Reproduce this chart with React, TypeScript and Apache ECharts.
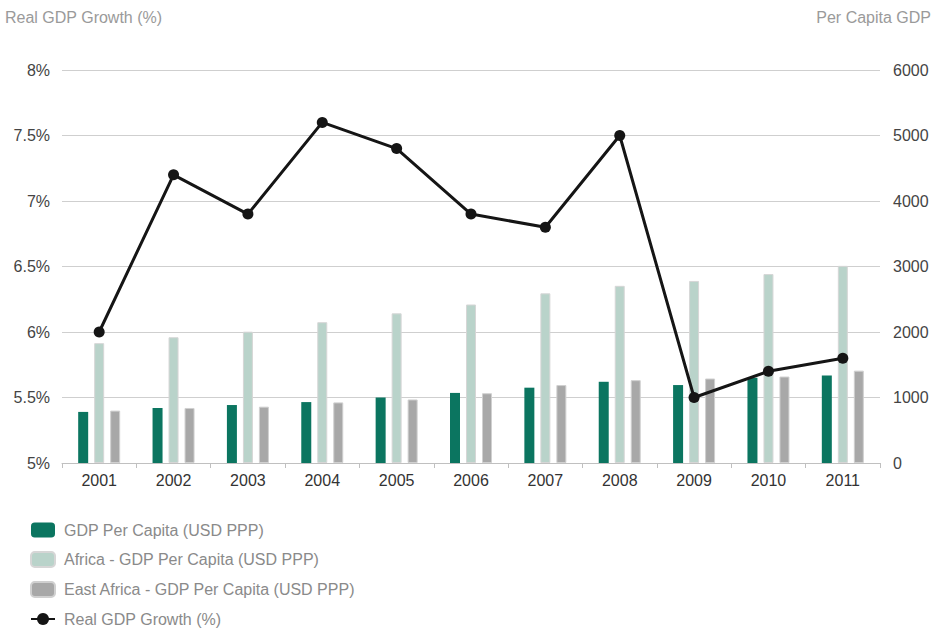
import React, { useEffect, useRef } from "react";
import * as echarts from "echarts";

const years = ["2001", "2002", "2003", "2004", "2005", "2006", "2007", "2008", "2009", "2010", "2011"];
const gdpPerCapita = [780, 840, 885, 930, 1000, 1070, 1150, 1240, 1190, 1300, 1335];
const africaGdpPerCapita = [1830, 1920, 2005, 2150, 2285, 2420, 2590, 2705, 2780, 2885, 3010];
const eastAfricaGdpPerCapita = [800, 840, 860, 925, 970, 1065, 1190, 1265, 1290, 1320, 1410];
const realGdpGrowth = [6.0, 7.2, 6.9, 7.6, 7.4, 6.9, 6.8, 7.5, 5.5, 5.7, 5.8];

const FONT = "'Liberation Sans', Arial, sans-serif";

export default function App() {
  const ref = useRef<HTMLDivElement>(null);
  useEffect(() => {
    document.body.style.margin = "0";
    const chart = echarts.init(ref.current!, null, { renderer: "svg" });
    chart.setOption({
      animation: false,
      backgroundColor: "#ffffff",
      textStyle: { fontFamily: FONT },
      graphic: [
        {
          type: "text",
          left: 5,
          top: 9,
          style: { text: "Real GDP Growth (%)", fill: "#9a9a9a", font: `16px ${FONT}` },
        },
        {
          type: "text",
          right: 10,
          top: 9,
          style: { text: "Per Capita GDP", fill: "#9a9a9a", font: `16px ${FONT}` },
        },
      ],
      grid: { left: 62, right: 61, top: 70, bottom: 165, containLabel: false },
      legend: {
        orient: "vertical",
        left: 30,
        top: 522,
        padding: 0,
        itemWidth: 24,
        itemHeight: 15,
        itemGap: 13,
        textStyle: { color: "#8a8a8a", fontSize: 16, fontFamily: FONT, padding: [0, 0, 0, 4] },
        data: [
          { name: "GDP Per Capita (USD PPP)", icon: "roundRect" },
          { name: "Africa - GDP Per Capita (USD PPP)", icon: "roundRect" },
          { name: "East Africa - GDP Per Capita (USD PPP)", icon: "roundRect" },
          { name: "Real GDP Growth (%)" },
        ],
      },
      xAxis: {
        type: "category",
        data: years,
        axisLine: { lineStyle: { color: "#c0c0c0" } },
        axisTick: { show: true, length: 5, lineStyle: { color: "#c0c0c0" } },
        axisLabel: { color: "#333", fontSize: 16, margin: 9, fontFamily: FONT },
      },
      yAxis: [
        {
          type: "value",
          min: 5,
          max: 8,
          interval: 0.5,
          position: "left",
          axisLine: { show: false },
          axisTick: { show: false },
          axisLabel: { color: "#444", fontSize: 16, margin: 12, formatter: (v: number) => `${v}%`, fontFamily: FONT },
          splitLine: { lineStyle: { color: "#cfcfcf" } },
        },
        {
          type: "value",
          min: 0,
          max: 6000,
          interval: 1000,
          position: "right",
          axisLine: { show: false },
          axisTick: { show: false },
          axisLabel: { color: "#444", fontSize: 16, margin: 13, formatter: (v: number) => String(v), fontFamily: FONT },
          splitLine: { show: false },
        },
      ],
      series: [
        {
          name: "GDP Per Capita (USD PPP)",
          type: "bar",
          yAxisIndex: 1,
          data: gdpPerCapita,
          barWidth: 10,
          barGap: "60%",
          itemStyle: { color: "#0b7560" },
        },
        {
          name: "Africa - GDP Per Capita (USD PPP)",
          type: "bar",
          yAxisIndex: 1,
          data: africaGdpPerCapita,
          barWidth: 10,
          barGap: "60%",
          itemStyle: { color: "#b9d3ca", borderColor: "#d6d6d6", borderWidth: 1 },
        },
        {
          name: "East Africa - GDP Per Capita (USD PPP)",
          type: "bar",
          yAxisIndex: 1,
          data: eastAfricaGdpPerCapita,
          barWidth: 10,
          barGap: "60%",
          itemStyle: { color: "#a8a8a8", borderColor: "#d0d0d0", borderWidth: 1 },
        },
        {
          name: "Real GDP Growth (%)",
          type: "line",
          yAxisIndex: 0,
          data: realGdpGrowth,
          symbol: "circle",
          symbolSize: 11,
          lineStyle: { color: "#151515", width: 3 },
          itemStyle: { color: "#151515" },
          z: 5,
        },
      ],
    });
    return () => chart.dispose();
  }, []);
  return <div ref={ref} style={{ position: "absolute", left: 0, top: 0, width: 941, height: 628 }} />;
}
